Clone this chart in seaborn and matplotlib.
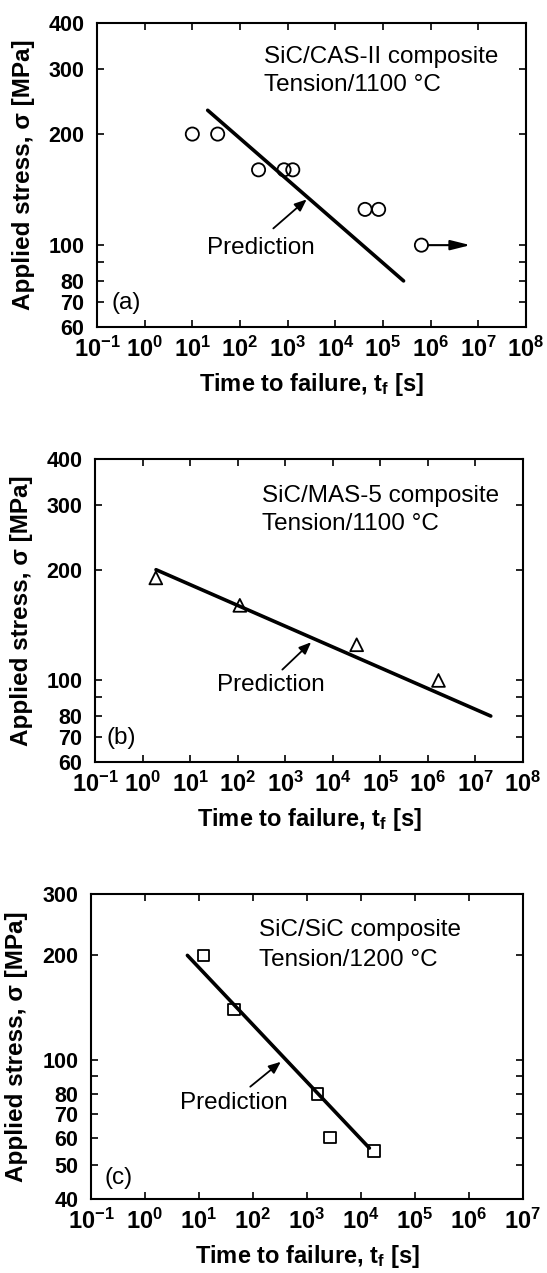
import matplotlib
matplotlib.use("Agg")
import matplotlib.pyplot as plt
import seaborn as sns
from matplotlib.ticker import FixedLocator, FixedFormatter, NullLocator

# ---------------- data ----------------
# (a) SiC/CAS-II composite, tension 1100 C
a_time = [10, 34, 245, 840, 1280, 42000, 81000, 640000]
a_stress = [200, 200, 160, 160, 160, 125, 125, 100]
a_pred_time = [21, 2.7e5]
a_pred_stress = [232, 80]
a_runout_time = [640000, 6.8e6]
a_runout_stress = [100, 100]

# (b) SiC/MAS-5 composite, tension 1100 C
b_time = [1.9, 111, 31800, 1.67e6]
b_stress = [190, 160, 125, 100]
b_pred_time = [1.92, 2.1e7]
b_pred_stress = [200, 80]

# (c) SiC/SiC composite, tension 1200 C
c_time = [12.2, 45, 1560, 2640, 17600]
c_stress = [200, 140, 80, 60, 55]
c_pred_time = [6.1, 14300]
c_pred_stress = [200, 56]

x_exps_ab = list(range(-1, 9))
x_exps_c = list(range(-1, 8))
y_ticks_ab = [60, 70, 80, 90, 100, 200, 300, 400]
y_labels_ab = ["60", "70", "80", "", "100", "200", "300", "400"]
y_ticks_c = [40, 50, 60, 70, 80, 90, 100, 200, 300]
y_labels_c = ["40", "50", "60", "70", "80", "", "100", "200", "300"]

titles = [("SiC/CAS-II composite", "Tension/1100 °C"),
          ("SiC/MAS-5 composite", "Tension/1100 °C"),
          ("SiC/SiC composite", "Tension/1200 °C")]
tags = ["(a)", "(b)", "(c)"]

# ---------------- style ----------------
sns.set_theme(style="ticks")
plt.rcParams["font.family"] = ["Liberation Sans", "DejaVu Sans"]
plt.rcParams["mathtext.fontset"] = "custom"
plt.rcParams["mathtext.rm"] = "Liberation Sans:bold"
plt.rcParams["mathtext.bf"] = "Liberation Sans:bold"
plt.rcParams["mathtext.it"] = "Liberation Sans:bold"
plt.rcParams["axes.linewidth"] = 1.5
for k in ["text.color", "axes.labelcolor", "xtick.color", "ytick.color",
          "axes.edgecolor", "xtick.labelcolor", "ytick.labelcolor"]:
    plt.rcParams[k] = "black"

XTICK_FS = 17
YTICK_FS = 15.5
LABEL_FS = 17
TEXT_FS = 17.5

fig = plt.figure(figsize=(5.47, 12.73), dpi=100)
ax_a = fig.add_axes([97 / 547, 1 - 327 / 1273, 429 / 547, 304 / 1273])
ax_b = fig.add_axes([95 / 547, 1 - 762 / 1273, 428 / 547, 303 / 1273])
ax_c = fig.add_axes([91 / 547, 1 - 1199 / 1273, 432 / 547, 305 / 1273])


def setup(ax, exps, yt, yl, ylim):
    ax.set_xscale("log")
    ax.set_yscale("log")
    ax.set_xlim(10.0 ** exps[0], 10.0 ** exps[-1])
    ax.set_ylim(*ylim)
    ax.xaxis.set_major_locator(FixedLocator([10.0 ** e for e in exps]))
    ax.xaxis.set_major_formatter(FixedFormatter([r"$\mathbf{10^{%d}}$" % e for e in exps]))
    ax.xaxis.set_minor_locator(NullLocator())
    ax.yaxis.set_major_locator(FixedLocator(yt))
    ax.yaxis.set_major_formatter(FixedFormatter(yl))
    ax.yaxis.set_minor_locator(NullLocator())
    ax.tick_params(axis="both", which="major", direction="in", length=5, width=1.2,
                   top=True, right=True, colors="black")
    ax.tick_params(axis="x", pad=7, labelsize=XTICK_FS)
    ax.tick_params(axis="y", pad=9, labelsize=YTICK_FS)
    for lab in ax.get_yticklabels():
        lab.set_fontweight("bold")
    for sp in ax.spines.values():
        sp.set_color("black")
        sp.set_linewidth(1.5)
    ax.set_xlabel(r"Time to failure, $\mathregular{t_f}$ [s]", fontsize=LABEL_FS,
                  fontweight="bold", va="center", color="black")
    ax.set_ylabel("Applied stress, σ [MPa]", fontsize=LABEL_FS + 0.5, fontweight="bold",
                  va="center", color="black")
    ax.xaxis.set_label_coords(0.5, -0.19)
    ax.yaxis.set_label_coords(-0.172, 0.5)


def draw(ax, t, s, marker, size, pt, ps, title, tag, tx, ty1, ty2, tag_xy,
         head, tail, ptext):
    sns.lineplot(x=pt, y=ps, ax=ax, color="black", linewidth=2.6, sort=False,
                 legend=False, zorder=2)
    sns.scatterplot(x=t, y=s, ax=ax, marker=marker, s=size, facecolor="none",
                    edgecolor="black", linewidth=1.3, zorder=3, legend=False)
    ax.text(tx, ty1, title[0], transform=ax.transAxes, fontsize=TEXT_FS, va="center", ha="left")
    ax.text(tx, ty2, title[1], transform=ax.transAxes, fontsize=TEXT_FS, va="center", ha="left")
    ax.text(tag_xy[0], tag_xy[1], tag, transform=ax.transAxes, fontsize=TEXT_FS,
            va="center", ha="left")
    ax.annotate("", xy=head, xytext=tail,
                arrowprops=dict(arrowstyle="-|>,head_length=0.6,head_width=0.25",
                                color="black", lw=1.3, mutation_scale=12,
                                shrinkA=0, shrinkB=0))
    ax.text(ptext[0], ptext[1], "Prediction", fontsize=TEXT_FS, ha="center", va="center")


setup(ax_a, x_exps_ab, y_ticks_ab, y_labels_ab, (60, 400))
draw(ax_a, a_time, a_stress, "o", 90, a_pred_time, a_pred_stress, titles[0], tags[0],
     0.389, 0.888, 0.796, (0.033, 0.079), (2500, 133), (500, 111), (280, 98))
ax_a.annotate("", xy=(a_runout_time[1], a_runout_stress[1]),
              xytext=(a_runout_time[0], a_runout_stress[0]),
              arrowprops=dict(arrowstyle="-|>,head_length=0.6,head_width=0.15",
                              color="black", lw=1.5, mutation_scale=20,
                              shrinkA=5, shrinkB=0))

setup(ax_b, x_exps_ab, y_ticks_ab, y_labels_ab, (60, 400))
draw(ax_b, b_time, b_stress, "^", 85, b_pred_time, b_pred_stress, titles[1], tags[1],
     0.391, 0.878, 0.785, (0.026, 0.079), (3500, 127), (870, 107), (500, 97))

setup(ax_c, x_exps_c, y_ticks_c, y_labels_c, (40, 300))
draw(ax_c, c_time, c_stress, "s", 70, c_pred_time, c_pred_stress, titles[2], tags[2],
     0.389, 0.882, 0.784, (0.032, 0.069), (327, 99), (89, 84), (45, 75.5))

fig.savefig("out.png", dpi=100)
